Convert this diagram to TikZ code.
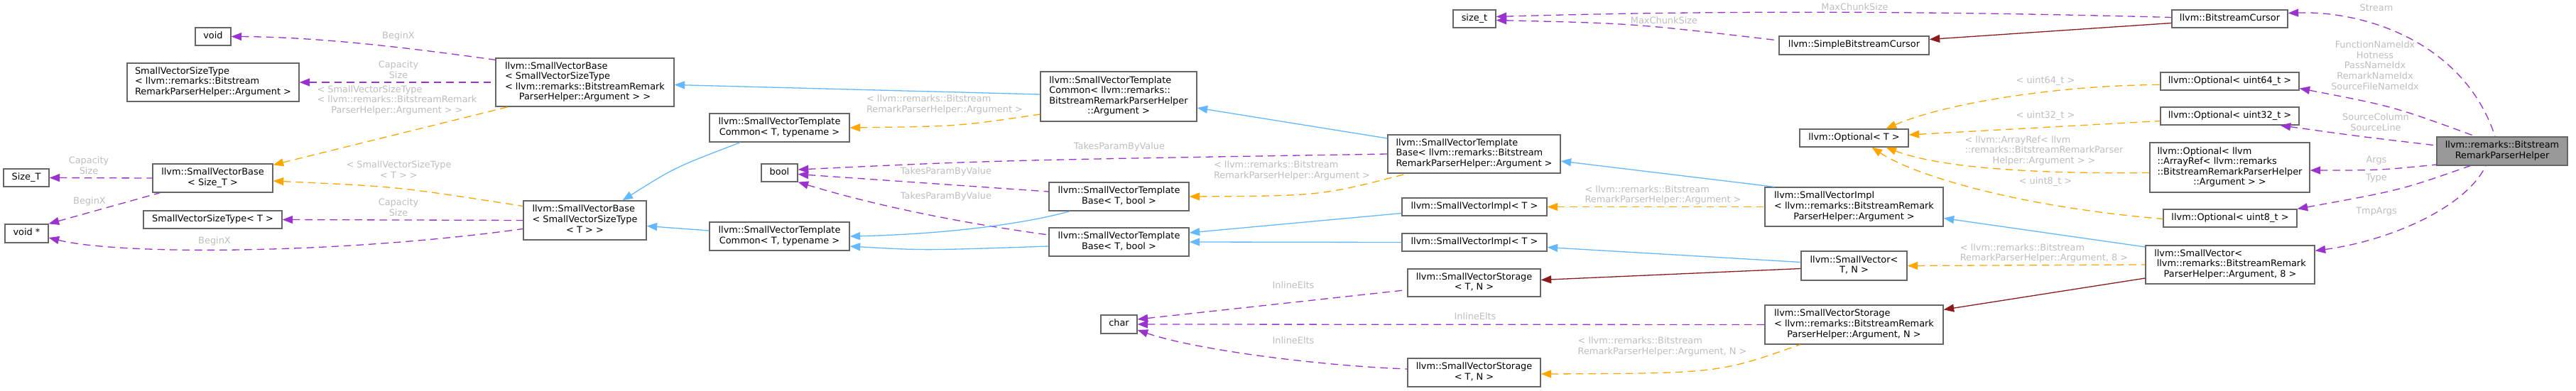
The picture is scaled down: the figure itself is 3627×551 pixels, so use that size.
\documentclass[tikz,border=0pt]{standalone}
\usepackage{fontspec}
\setmainfont{DejaVu Sans}
\definecolor{usepurple}{HTML}{9A32CD}
\definecolor{tmplorange}{HTML}{FFA500}
\definecolor{inhblue}{HTML}{63B8FF}
\definecolor{privred}{HTML}{8B1A1A}
\definecolor{labelgray}{HTML}{BEBEBE}
\definecolor{boxgray}{HTML}{666666}
\definecolor{mainfill}{HTML}{999999}
\usetikzlibrary{arrows.meta}
% lines left aligned, last line centred
\newcommand{\tlines}[2]{\begin{tabular}{@{}l@{}}#1\\\multicolumn{1}{@{}c@{}}{#2}\end{tabular}}
\newcommand{\clines}[1]{\begin{tabular}{@{}c@{}}#1\end{tabular}}

\begin{document}
\begin{tikzpicture}[x=1pt, y=-1pt,
  >={Triangle[length=14.5pt, width=11pt]},
  cbox/.style 2 args={draw=boxgray, fill=white, line width=1.3pt, inner sep=0pt,
    minimum width=#1, minimum height=#2, font=\fontsize{12.9}{14.6}\selectfont},
  oneline/.style={text height=10.2pt, text depth=4.4pt},
  lbl/.style={text=labelgray, inner sep=0pt, font=\fontsize{12.9}{14.6}\selectfont},
  useedge/.style={usepurple, line width=1.3pt, dash pattern=on 10.5pt off 7pt, <-},
  tmpledge/.style={tmplorange, line width=1.3pt, dash pattern=on 10.5pt off 7pt, <-},
  inhedge/.style={inhblue, line width=1.3pt, <-},
  privedge/.style={privred, line width=1.3pt, <-}]
  \useasboundingbox[fill=white] (0,0) rectangle (3627,551);

  % Classes
  \node[cbox={50pt}{25pt}, oneline] (voidT) at (300,51.5) {void};
  \node[cbox={242pt}{54pt}] (svsizeArg) at (300,116) {\tlines{SmallVectorSizeType\\< llvm::remarks::Bitstream}{RemarkParserHelper::Argument >}};
  \node[cbox={64pt}{25pt}, oneline] (sizeT) at (37,250.5) {Size\_T};
  \node[cbox={169pt}{40pt}] (svbaseSizeT) at (299.5,251) {\tlines{llvm::SmallVectorBase}{< Size\_T >}};
  \node[cbox={195pt}{25pt}, oneline] (svsizeT) at (299.5,309.5) {SmallVectorSizeType< T >};
  \node[cbox={61pt}{26pt}, oneline] (voidptr) at (37.5,329) {void *};

  \node[cbox={251pt}{68pt}] (svbaseArg) at (823.5,116) {\tlines{llvm::SmallVectorBase\\< SmallVectorSizeType\\< llvm::remarks::BitstreamRemark}{ParserHelper::Argument > >}};
  \node[cbox={173pt}{55pt}] (svbaseT) at (823.5,310.5) {\tlines{llvm::SmallVectorBase\\< SmallVectorSizeType}{< T > >}};
  \node[cbox={197pt}{40pt}] (svtcTop) at (1097.5,180) {\tlines{llvm::SmallVectorTemplate}{Common< T, typename >}};
  \node[cbox={51pt}{25pt}, oneline] (boolT) at (1097.5,243.5) {bool};
  \node[cbox={197pt}{40pt}] (svtcBot) at (1097.5,333) {\tlines{llvm::SmallVectorTemplate}{Common< T, typename >}};

  \node[cbox={220pt}{70pt}] (svtcArg) at (1575,136) {\tlines{llvm::SmallVectorTemplate\\Common< llvm::remarks::\\BitstreamRemarkParserHelper}{::Argument >}};
  \node[cbox={197pt}{40pt}] (svtbTop) at (1575.5,277) {\tlines{llvm::SmallVectorTemplate}{Base< T, bool >}};
  \node[cbox={197pt}{40pt}] (svtbBot) at (1575.5,341) {\tlines{llvm::SmallVectorTemplate}{Base< T, bool >}};
  \node[cbox={51pt}{26pt}, oneline] (charT) at (1575.5,457) {char};

  \node[cbox={60pt}{25pt}, oneline] (sizet) at (2076,26.5) {size\_t};
  \node[cbox={243pt}{54pt}] (svtbArg) at (2075.5,217) {\tlines{llvm::SmallVectorTemplate\\Base< llvm::remarks::Bitstream}{RemarkParserHelper::Argument >}};
  \node[cbox={204pt}{25pt}, oneline] (svimplTop) at (2076,291.5) {llvm::SmallVectorImpl< T >};
  \node[cbox={204pt}{25pt}, oneline] (svimplBot) at (2076,341.5) {llvm::SmallVectorImpl< T >};
  \node[cbox={187pt}{39pt}] (svstorTop) at (2075.5,398.5) {\tlines{llvm::SmallVectorStorage}{< T, N >}};
  \node[cbox={187pt}{40pt}] (svstorBot) at (2075.5,525) {\tlines{llvm::SmallVectorStorage}{< T, N >}};

  \node[cbox={211pt}{26pt}, oneline] (simpleCursor) at (2610.5,64) {llvm::SimpleBitstreamCursor};
  \node[cbox={153pt}{25pt}, oneline] (optT) at (2610.5,194.5) {llvm::Optional< T >};
  \node[cbox={251pt}{55pt}] (svimplArg) at (2610.5,291.5) {\tlines{llvm::SmallVectorImpl\\< llvm::remarks::BitstreamRemark}{ParserHelper::Argument >}};
  \node[cbox={149pt}{41pt}] (svecT) at (2610.5,374.5) {\tlines{llvm::SmallVector<}{T, N >}};
  \node[cbox={251pt}{55pt}] (svstorArg) at (2610.5,457.5) {\tlines{llvm::SmallVectorStorage\\< llvm::remarks::BitstreamRemark}{ParserHelper::Argument, N >}};

  \node[cbox={163pt}{25pt}, oneline] (cursor) at (3139.5,26.5) {llvm::BitstreamCursor};
  \node[cbox={195pt}{25pt}, oneline] (opt64) at (3139.5,114.5) {llvm::Optional< uint64\_t >};
  \node[cbox={195pt}{25pt}, oneline] (opt32) at (3139.5,163.5) {llvm::Optional< uint32\_t >};
  \node[cbox={225pt}{70pt}] (optArr) at (3139.5,236) {\tlines{llvm::Optional< llvm\\::ArrayRef< llvm::remarks\\::BitstreamRemarkParserHelper}{::Argument > >}};
  \node[cbox={188pt}{25pt}, oneline] (opt8) at (3140,307.5) {llvm::Optional< uint8\_t >};
  \node[cbox={238pt}{54pt}] (svecArg) at (3140,373) {\tlines{llvm::SmallVector<\\\hspace{3.5pt}llvm::remarks::BitstreamRemark}{ParserHelper::Argument, 8 >}};
  \node[cbox={184pt}{40pt}, fill=mainfill] (helper) at (3523,213) {\tlines{llvm::remarks::Bitstream}{RemarkParserHelper}};

  % Edge labels
  \node[lbl, oneline] (lBeginA) at (561,52) {BeginX};
  \node[lbl] (lCapA) at (561,100) {\clines{Capacity\\Size}};
  \node[lbl] (lSvsA) at (559,142) {\tlines{< SmallVectorSizeType\\< llvm::remarks::BitstreamRemark}{ParserHelper::Argument > >}};
  \node[lbl] (lCapB) at (125,235) {\clines{Capacity\\Size}};
  \node[lbl, oneline] (lBeginB) at (126,284.6) {BeginX};
  \node[lbl] (lSvsB) at (561.5,241) {\tlines{< SmallVectorSizeType}{< T > >}};
  \node[lbl] (lCapC) at (561,294) {\clines{Capacity\\Size}};
  \node[lbl, oneline] (lBeginC) at (302,341) {BeginX};
  \node[lbl] (lArgA) at (1330,148) {\tlines{< llvm::remarks::Bitstream}{RemarkParserHelper::Argument >}};
  \node[lbl, oneline] (lTakesA) at (1576,208) {TakesParamByValue};
  \node[lbl, oneline] (lTakesB) at (1332,243) {TakesParamByValue};
  \node[lbl, oneline] (lTakesC) at (1332,278) {TakesParamByValue};
  \node[lbl] (lArgB) at (1819,241) {\tlines{< llvm::remarks::Bitstream}{RemarkParserHelper::Argument >}};
  \node[lbl, oneline] (lInlA) at (1821,404) {InlineElts};
  \node[lbl, oneline] (lInlB) at (2077,448) {InlineElts};
  \node[lbl, oneline] (lInlC) at (1821,482) {InlineElts};
  \node[lbl, oneline] (lChunkA) at (2611.5,11.6) {MaxChunkSize};
  \node[lbl, oneline] (lChunkB) at (2343,31) {MaxChunkSize};
  \node[lbl] (lArgC) at (2341.5,275.5) {\tlines{< llvm::remarks::Bitstream}{RemarkParserHelper::Argument >}};
  \node[lbl] (lArgD) at (2340.5,489) {\tlines{< llvm::remarks::Bitstream}{RemarkParserHelper::Argument, N >}};
  \node[lbl, oneline] (lU64) at (2880,115) {< uint64\_t >};
  \node[lbl, oneline] (lU32) at (2880,164) {< uint32\_t >};
  \node[lbl] (lArr) at (2878,213) {\tlines{< llvm::ArrayRef< llvm\\::remarks::BitstreamRemarkParser}{Helper::Argument > >}};
  \node[lbl, oneline] (lU8) at (2880,256.5) {< uint8\_t >};
  \node[lbl] (lArgE) at (2878,357.5) {\tlines{< llvm::remarks::Bitstream}{RemarkParserHelper::Argument, 8 >}};
  \node[lbl, oneline] (lStream) at (3346,12.6) {Stream};
  \node[lbl] (lIdx) at (3344,94) {\clines{FunctionNameIdx\\Hotness\\PassNameIdx\\RemarkNameIdx\\SourceFileNameIdx}};
  \node[lbl] (lSrc) at (3345,174) {\clines{SourceColumn\\SourceLine}};
  \node[lbl, oneline] (lArgs) at (3346,226.6) {Args};
  \node[lbl, oneline] (lType) at (3346,252) {Type};
  \node[lbl, oneline] (lTmp) at (3346,299) {TmpArgs};

  % Members (purple)
  \draw[useedge] (voidT.east) .. controls (450,52) and (580,68) .. ([yshift=-3pt]svbaseArg.north west);
  \draw[useedge] (svsizeArg.east) -- (svbaseArg.west);
  \draw[useedge] (sizeT.east) -- (svbaseSizeT.west);
  \draw[useedge] (voidptr.north east) -- ([xshift=11pt]svbaseSizeT.south west);
  \draw[useedge] (svsizeT.east) -- (svbaseT.west);
  \draw[useedge] ([yshift=-6pt]voidptr.east) .. controls (170,360) and (480,358) .. ([yshift=-12pt]svbaseT.west);
  \draw[useedge] ([yshift=4.5pt]boolT.east) .. controls (1400,226) .. (svtbArg.west);
  \draw[useedge] ([yshift=-2pt]boolT.east) -- ([yshift=7pt]svtbTop.west);
  \draw[useedge] (boolT.south east) .. controls (1250,295) and (1380,318) .. ([yshift=10pt]svtbBot.west);
  \draw[useedge] ([yshift=7pt]charT.east) -- ([yshift=-10pt]svstorTop.west);
  \draw[useedge] (charT.east) -- (svstorArg.west);
  \draw[useedge] ([yshift=-8pt]charT.east) .. controls (1680,492) and (1850,515) .. ([yshift=5pt]svstorBot.west);
  \draw[useedge] ([yshift=3pt]sizet.east) .. controls (2400,15) and (2700,15) .. ([yshift=2pt]cursor.west);
  \draw[useedge] ([yshift=-2pt]sizet.east) .. controls (2300,33) .. ([yshift=7pt]simpleCursor.west);
  \draw[useedge] ([yshift=8pt]cursor.east) .. controls (3330,15) and (3470,60) .. ([xshift=-10pt]helper.north);
  \draw[useedge] ([yshift=-10pt]opt64.east) .. controls (3370,150) .. ([xshift=-37pt]helper.north);
  \draw[useedge] ([xshift=-27pt]opt32.south east) .. controls (3320,192) .. ([yshift=8pt]helper.west);
  \draw[useedge] ([yshift=-4pt]optArr.east) .. controls (3350,240) .. ([yshift=-19pt]helper.west);
  \draw[useedge] (opt8.north east) .. controls (3380,268) .. ([xshift=-45pt]helper.south);
  \draw[useedge] ([yshift=-8pt]svecArg.north east) .. controls (3360,340) and (3470,295) .. ([xshift=-23pt]helper.south);

  % Template instances (orange)
  \draw[tmpledge] ([yshift=-2pt]svbaseSizeT.north east) -- ([xshift=18pt]svbaseArg.south west);
  \draw[tmpledge] ([yshift=-4pt]svbaseSizeT.east) .. controls (560,263) .. ([yshift=20pt]svbaseT.west);
  \draw[tmpledge] (svtcTop.east) .. controls (1350,178) .. ([yshift=-25pt]svtcArg.west);
  \draw[tmpledge] (svtbTop.east) .. controls (1860,276) .. ([xshift=28pt]svtbArg.south west);
  \draw[tmpledge] (svimplTop.east) -- (svimplArg.west);
  \draw[tmpledge] ([yshift=-2pt]svstorBot.east) .. controls (2420,526) .. ([xshift=50pt]svstorArg.south west);
  \draw[tmpledge] ([xshift=45pt]optT.north) .. controls (2740,145) and (2900,120) .. ([yshift=-5pt]opt64.west);
  \draw[tmpledge] ([yshift=4.5pt]optT.east) -- ([yshift=-7pt]opt32.west);
  \draw[tmpledge] ([xshift=45pt]optT.south) .. controls (2740,240) and (2900,245) .. ([yshift=-7.5pt]optArr.west);
  \draw[tmpledge] ([xshift=25pt]optT.south) .. controls (2700,250) and (2850,292) .. ([yshift=-1pt]opt8.west);
  \draw[tmpledge] (svecT.east) -- (svecArg.west);

  % Public inheritance (blue)
  \draw[inhedge] ([yshift=-3.5pt]svbaseArg.east) -- ([yshift=3pt]svtcArg.west);
  \draw[inhedge] ([xshift=53pt]svbaseT.north) .. controls (950,236) .. ([xshift=-55pt]svtcTop.south);
  \draw[inhedge] ([yshift=-8pt]svbaseT.east) -- ([yshift=8pt]svtcBot.west);
  \draw[inhedge] ([yshift=-16pt]svtcArg.east) -- ([yshift=22pt]svtbArg.west);
  \draw[inhedge] (svtcBot.east) .. controls (1330,330) and (1440,316) .. ([xshift=-69pt]svtbTop.south);
  \draw[inhedge] ([yshift=-14pt]svtcBot.east) .. controls (1300,353) .. ([yshift=-6pt]svtbBot.west);
  \draw[inhedge] ([yshift=13pt]svtbBot.east) -- ([yshift=-9pt]svimplTop.west);
  \draw[inhedge] (svtbBot.east) -- (svimplBot.west);
  \draw[inhedge] ([yshift=-10pt]svtbArg.east) -- ([xshift=14pt]svimplArg.north west);
  \draw[inhedge] ([yshift=-7pt]svimplBot.east) -- ([yshift=5pt]svecT.west);
  \draw[inhedge] ([yshift=-16pt]svimplArg.east) -- ([yshift=25pt]svecArg.west);

  % Private inheritance (dark red)
  \draw[privedge] ([yshift=4pt]svstorTop.east) -- ([yshift=-4pt]svecT.west);
  \draw[privedge] ([yshift=-7pt]svstorArg.north east) -- ([yshift=-19pt]svecArg.west);
  \draw[privedge] ([yshift=8.5pt]simpleCursor.east) -- ([yshift=-6pt]cursor.west);
\end{tikzpicture}
\end{document}
